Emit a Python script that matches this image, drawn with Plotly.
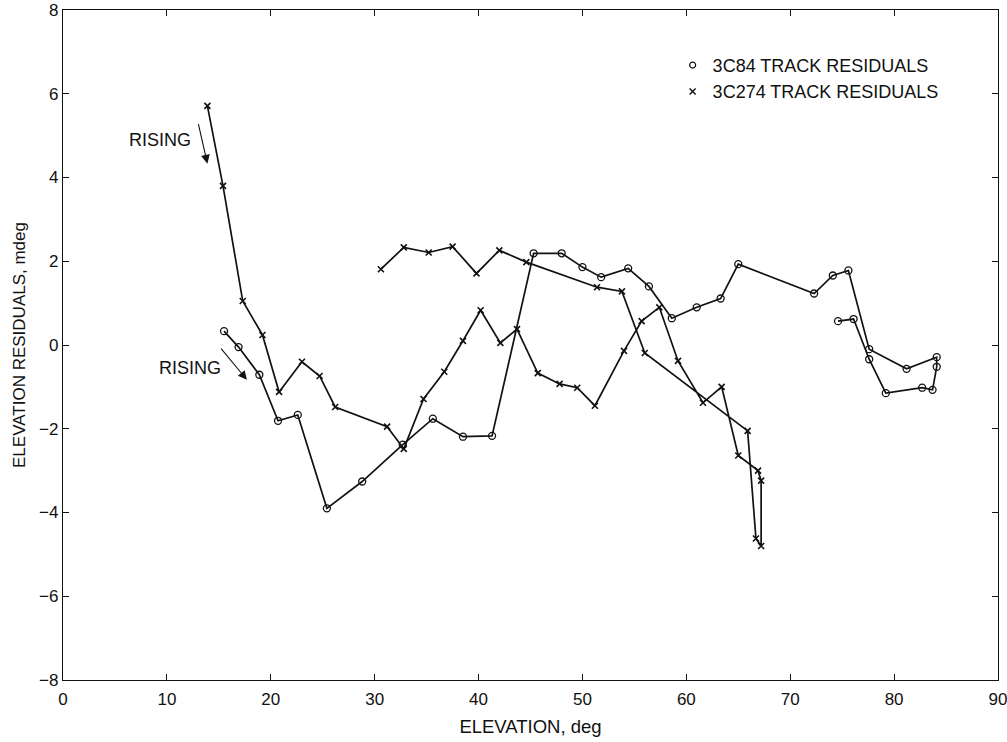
import plotly.graph_objects as go

# 3C84 track: elevation (deg) and elevation residual (mdeg), in time order
elev_3c84 = [15.5, 16.9, 18.9, 20.7, 22.6, 25.4, 28.8, 32.7, 35.6, 38.5, 41.3,
             45.3, 48.0, 50.0, 51.8, 54.4, 56.4, 58.6, 61.0, 63.3, 65.0,
             72.3, 74.1, 75.6, 77.6, 81.2, 84.1, 84.1, 83.7, 82.7, 79.2,
             77.6, 76.1, 74.6]
resid_3c84 = [0.33, -0.05, -0.71, -1.81, -1.67, -3.90, -3.26, -2.38, -1.76, -2.19, -2.17,
              2.19, 2.19, 1.86, 1.62, 1.83, 1.40, 0.64, 0.90, 1.11, 1.93,
              1.23, 1.66, 1.78, -0.10, -0.57, -0.29, -0.52, -1.07, -1.02, -1.15,
              -0.34, 0.62, 0.57]

# 3C274 track: elevation (deg) and elevation residual (mdeg), in time order
elev_3c274 = [13.9, 15.4, 17.3, 19.2, 20.8, 23.0, 24.7, 26.2, 31.2, 32.8,
              34.7, 36.7, 38.5, 40.2, 42.1, 43.7, 45.7, 47.8, 49.5, 51.2,
              54.0, 55.7, 57.4, 59.2, 61.6, 63.4, 65.0, 66.9, 67.2, 67.2,
              66.7, 65.9, 56.0, 53.8, 51.4, 44.6, 42.0, 39.8, 37.5, 35.2,
              32.8, 30.6]
resid_3c274 = [5.71, 3.80, 1.05, 0.24, -1.12, -0.40, -0.74, -1.48, -1.95, -2.48,
               -1.29, -0.64, 0.10, 0.83, 0.05, 0.38, -0.67, -0.93, -1.02, -1.45,
               -0.14, 0.57, 0.90, -0.38, -1.38, -1.00, -2.64, -3.00, -3.24, -4.80,
               -4.62, -2.05, -0.19, 1.28, 1.38, 1.98, 2.26, 1.71, 2.35, 2.21,
               2.33, 1.81]

x_ticks = [0, 10, 20, 30, 40, 50, 60, 70, 80, 90]
y_ticks = [-8, -6, -4, -2, 0, 2, 4, 6, 8]

FONT = "Liberation Sans, Arial, Helvetica, sans-serif"
INK = "#111111"

fig = go.Figure()

fig.add_trace(go.Scatter(
    x=elev_3c84, y=resid_3c84, mode="lines+markers", showlegend=False,
    line=dict(color=INK, width=1.7),
    marker=dict(symbol="circle-open", size=7, color=INK, line=dict(width=1.3)),
))
fig.add_trace(go.Scatter(
    x=elev_3c274, y=resid_3c274, mode="lines+markers", showlegend=False,
    line=dict(color=INK, width=1.7),
    marker=dict(symbol="x-thin-open", size=6, color=INK, line=dict(width=1.6, color=INK)),
))

# legend entries show the marker symbol only
fig.add_trace(go.Scatter(
    x=[None], y=[None], mode="markers", name="3C84 TRACK RESIDUALS",
    marker=dict(symbol="circle-open", size=6, color=INK, line=dict(width=1.2)),
))
fig.add_trace(go.Scatter(
    x=[None], y=[None], mode="markers", name="3C274 TRACK RESIDUALS",
    marker=dict(symbol="x-thin-open", size=6, color=INK, line=dict(width=1.4, color=INK)),
))

# "RISING" direction arrows
fig.add_annotation(x=13.9, y=4.33, ax=13.0, ay=5.31, xref="x", yref="y",
                   axref="x", ayref="y", showarrow=True, arrowhead=2,
                   arrowsize=1.6, arrowwidth=1.1, arrowcolor=INK, text="")
fig.add_annotation(x=9.3, y=4.9, text="RISING", showarrow=False,
                   font=dict(family=FONT, size=18, color=INK))
fig.add_annotation(x=17.7, y=-0.83, ax=15.1, ay=-0.05, xref="x", yref="y",
                   axref="x", ayref="y", showarrow=True, arrowhead=2,
                   arrowsize=1.6, arrowwidth=1.1, arrowcolor=INK, text="")
fig.add_annotation(x=12.2, y=-0.55, text="RISING", showarrow=False,
                   font=dict(family=FONT, size=18, color=INK))

axis_common = dict(
    showgrid=False, zeroline=False, showline=True, linecolor=INK, linewidth=1.2,
    mirror="ticks", ticks="inside", ticklen=6, tickwidth=1, tickcolor=INK,
    tickfont=dict(family=FONT, size=17, color=INK), automargin=False,
    ticklabeloverflow="allow",
)

fig.update_layout(
    width=1007, height=742,
    margin=dict(l=63, r=9, t=10, b=62),
    paper_bgcolor="white", plot_bgcolor="white",
    font=dict(family=FONT, color=INK),
    xaxis=dict(range=[0, 90], tickvals=x_ticks, ticklabelstandoff=3,
               title=dict(text="ELEVATION, deg", font=dict(family=FONT, size=18.5), standoff=12),
               **axis_common),
    yaxis=dict(range=[-8, 8], tickvals=y_ticks,
               title=dict(text="ELEVATION RESIDUALS, mdeg", font=dict(family=FONT, size=17), standoff=9),
               **axis_common),
    legend=dict(x=0.652, y=0.945, xanchor="left", yanchor="top",
                bgcolor="rgba(0,0,0,0)", borderwidth=0,
                font=dict(family=FONT, size=18, color=INK),
                itemwidth=30, tracegroupgap=2),
)

fig.write_html("out.html")
